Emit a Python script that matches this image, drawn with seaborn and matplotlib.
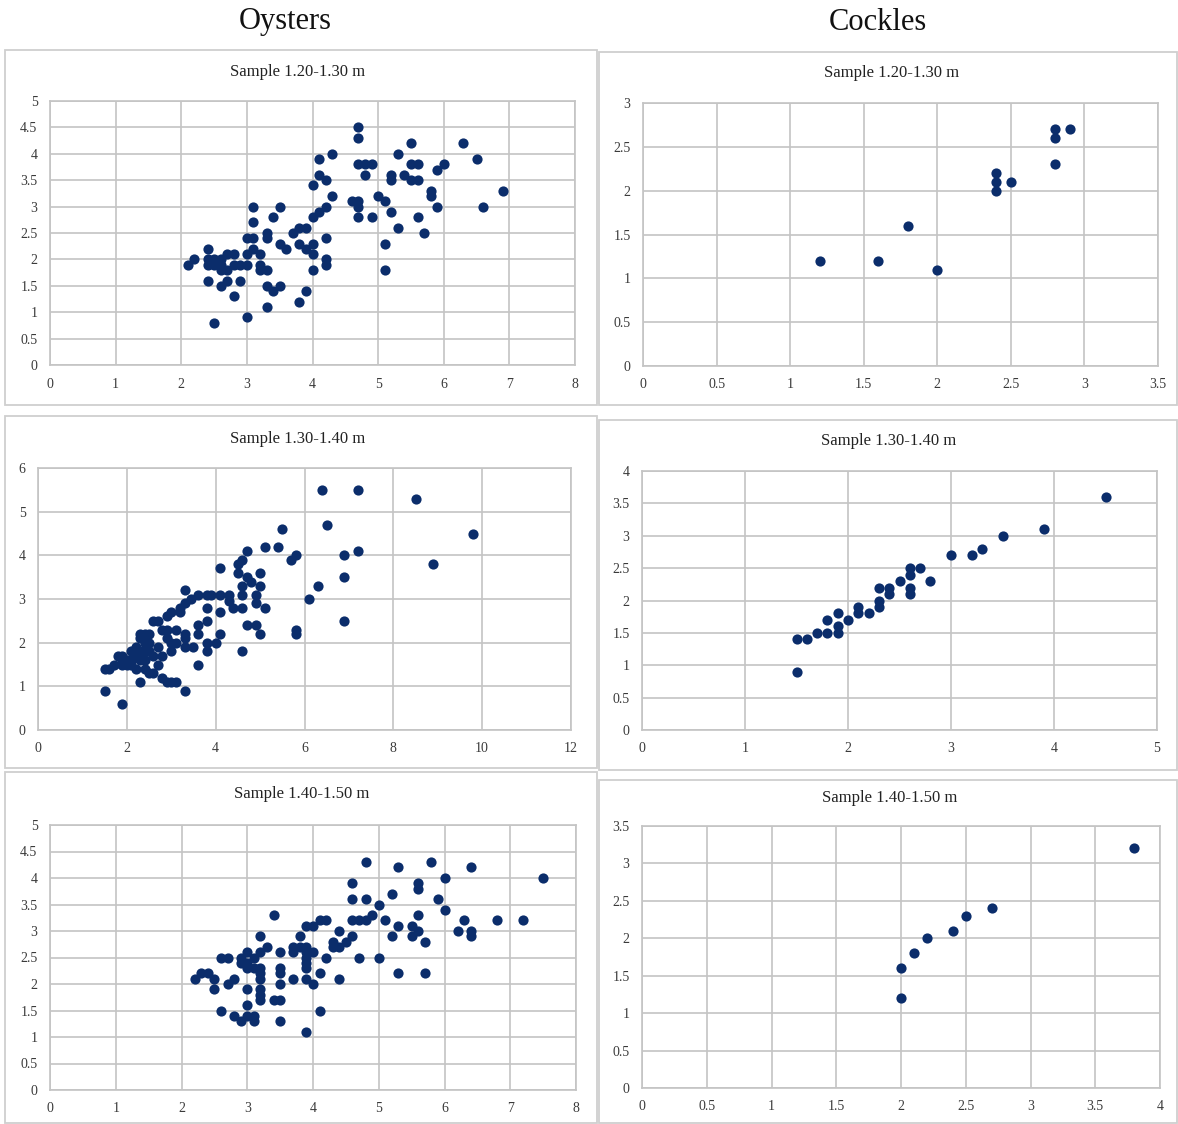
import numpy as np
import pandas as pd
import matplotlib
matplotlib.use("Agg")
import matplotlib.pyplot as plt
from matplotlib.patches import Rectangle
import seaborn as sns

# ---------------- data ----------------
column_titles = ["Oysters", "Cockles"]
panel_titles = ["Sample 1.20-1.30 m", "Sample 1.30-1.40 m", "Sample 1.40-1.50 m"]

oy1_x = [4.7, 4.7, 5.5, 5.3, 4.1, 4.3, 4.7, 4.8, 4.9, 4.8, 5.5, 5.6, 5.2, 5.2, 5.4, 5.5, 5.6,
         4.1, 4.2, 4.0, 4.3, 4.6, 4.7, 4.7, 5.0, 5.1, 5.2, 4.7, 4.9, 5.6, 5.3, 5.1, 5.1,
         4.2, 4.1, 4.0, 3.9, 3.8, 3.7, 3.1, 3.5, 3.4, 3.1, 3.0, 3.1, 3.3, 3.3, 3.5, 3.6,
         3.8, 3.9, 4.0, 4.0, 4.2, 4.2, 4.2, 4.0, 3.9, 3.8, 2.4, 2.1, 2.2, 2.4, 2.5, 2.6,
         2.4, 2.5, 2.6, 2.7, 2.6, 2.7, 2.8, 2.8, 2.9, 3.0, 3.0, 3.1, 3.2, 3.2, 3.2, 3.3,
         2.4, 2.7, 2.6, 2.9, 2.8, 3.3, 3.4, 3.5, 3.3, 2.5, 3.0, 5.9, 6.0, 6.3, 6.5, 6.9,
         6.6, 5.8, 5.8, 5.9, 5.7]
oy1_y = [4.5, 4.3, 4.2, 4.0, 3.9, 4.0, 3.8, 3.8, 3.8, 3.6, 3.8, 3.8, 3.6, 3.5, 3.6, 3.5, 3.5,
         3.6, 3.5, 3.4, 3.2, 3.1, 3.1, 3.0, 3.2, 3.1, 2.9, 2.8, 2.8, 2.8, 2.6, 2.3, 1.8,
         3.0, 2.9, 2.8, 2.6, 2.6, 2.5, 3.0, 3.0, 2.8, 2.7, 2.4, 2.4, 2.5, 2.4, 2.3, 2.2,
         2.3, 2.2, 2.3, 2.1, 2.4, 2.0, 1.9, 1.8, 1.4, 1.2, 2.2, 1.9, 2.0, 2.0, 2.0, 2.0,
         1.9, 1.9, 1.9, 1.8, 1.8, 2.1, 2.1, 1.9, 1.9, 1.9, 2.1, 2.2, 2.1, 1.9, 1.8, 1.8,
         1.6, 1.6, 1.5, 1.6, 1.3, 1.5, 1.4, 1.5, 1.1, 0.8, 0.9, 3.7, 3.8, 4.2, 3.9, 3.3,
         3.0, 3.3, 3.2, 3.0, 2.5]

oy2_x = [5.5, 5.1, 5.4, 4.7, 4.6, 4.5, 5.7, 5.8, 4.1, 4.5, 5.0, 4.7, 4.8, 5.0, 4.6, 4.6,
         4.9, 3.3, 3.6, 3.8, 3.9, 4.1, 4.3, 3.45, 3.3, 3.2, 3.2, 3.0, 2.9, 4.3, 4.4, 4.6,
         4.9, 5.1, 3.8, 4.1, 3.8, 3.6, 3.6, 4.7, 4.9, 5.0, 4.1, 3.8, 4.0, 3.8, 4.6, 3.6,
         5.8, 5.8, 6.1, 2.6, 2.7, 2.8, 2.3, 2.4, 2.5, 3.1, 3.3, 3.3, 2.9, 3.0, 3.1, 3.3,
         3.5, 3.0, 2.8, 2.2, 2.1, 1.9, 1.8, 1.7, 1.5, 1.6, 2.2, 2.3, 2.4, 2.5, 2.1, 2.2,
         2.4, 2.5, 2.6, 1.9, 2.7, 2.4, 2.3, 2.5, 2.0, 2.1, 1.9, 2.4, 2.7, 2.0, 2.3, 2.6,
         2.9, 2.3, 2.8, 2.9, 3.0, 3.1, 3.3, 1.5, 1.9, 6.4, 7.2, 8.5, 6.5, 9.8, 6.9, 7.2,
         8.9, 6.9, 6.3, 6.9]
oy2_y = [4.6, 4.2, 4.2, 4.1, 3.9, 3.8, 3.9, 4.0, 3.7, 3.6, 3.6, 3.5, 3.4, 3.3, 3.3, 3.1,
         3.1, 3.2, 3.1, 3.1, 3.1, 3.1, 3.1, 3.0, 2.9, 2.8, 2.7, 2.7, 2.6, 2.95, 2.8, 2.8,
         2.9, 2.8, 2.8, 2.7, 2.5, 2.4, 2.2, 2.4, 2.4, 2.2, 2.2, 2.0, 2.0, 1.8, 1.8, 1.5,
         2.3, 2.2, 3.0, 2.5, 2.5, 2.3, 2.2, 2.2, 2.2, 2.3, 2.2, 2.1, 2.1, 2.0, 2.0, 1.9,
         1.9, 1.8, 1.7, 1.9, 1.8, 1.7, 1.7, 1.5, 1.4, 1.4, 1.7, 1.8, 1.8, 1.8, 1.5, 1.4,
         1.4, 1.3, 1.3, 1.5, 1.9, 2.0, 2.1, 2.0, 1.6, 1.6, 1.6, 1.6, 1.5, 1.5, 1.6, 1.7,
         2.3, 1.1, 1.2, 1.1, 1.1, 1.1, 0.9, 0.9, 0.6, 5.5, 5.5, 5.3, 4.7, 4.5, 4.0, 4.1,
         3.8, 3.5, 3.3, 2.5]

oy3_x = [4.8, 5.3, 4.6, 4.6, 4.8, 5.0, 5.2, 5.1, 3.4, 3.9, 4.0, 4.1, 4.2, 4.6, 4.7, 4.8,
         4.9, 5.3, 5.2, 4.4, 4.6, 4.5, 4.4, 4.3, 4.3, 3.2, 3.8, 3.3, 3.7, 3.8, 3.9, 3.7,
         3.9, 3.9, 4.0, 4.2, 4.7, 5.0, 5.3, 4.4, 3.5, 3.5, 3.5, 3.5, 3.7, 3.9, 3.9, 3.9,
         4.0, 4.1, 3.2, 3.0, 3.1, 3.2, 3.2, 2.6, 2.7, 2.9, 2.9, 3.0, 3.0, 3.1, 2.2, 2.3,
         2.4, 2.5, 2.5, 2.7, 2.8, 3.0, 3.2, 3.2, 3.2, 3.2, 3.4, 3.5, 3.0, 2.6, 2.8, 2.9,
         3.0, 3.1, 3.1, 3.5, 4.1, 3.9, 5.8, 6.4, 7.5, 6.0, 5.6, 5.6, 5.9, 6.0, 5.6, 6.3,
         6.8, 7.2, 5.5, 5.5, 5.6, 5.7, 6.2, 6.4, 6.4, 5.7]
oy3_y = [4.3, 4.2, 3.9, 3.6, 3.6, 3.5, 3.7, 3.2, 3.3, 3.1, 3.1, 3.2, 3.2, 3.2, 3.2, 3.2,
         3.3, 3.1, 2.9, 3.0, 2.9, 2.8, 2.7, 2.8, 2.7, 2.9, 2.9, 2.7, 2.7, 2.7, 2.7, 2.6,
         2.6, 2.5, 2.6, 2.5, 2.5, 2.5, 2.2, 2.1, 2.6, 2.3, 2.2, 2.0, 2.1, 2.4, 2.3, 2.1,
         2.0, 2.2, 2.6, 2.6, 2.5, 2.3, 2.2, 2.5, 2.5, 2.5, 2.4, 2.4, 2.3, 2.3, 2.1, 2.2,
         2.2, 2.1, 1.9, 2.0, 2.1, 1.9, 2.1, 1.9, 1.8, 1.7, 1.7, 1.7, 1.6, 1.5, 1.4, 1.3,
         1.4, 1.3, 1.4, 1.3, 1.5, 1.1, 4.3, 4.2, 4.0, 4.0, 3.9, 3.8, 3.6, 3.4, 3.3, 3.2,
         3.2, 3.2, 3.1, 2.9, 3.0, 2.8, 3.0, 3.0, 2.9, 2.2]

co1_x = [1.2, 1.6, 1.8, 2.0, 2.4, 2.4, 2.4, 2.5, 2.8, 2.8, 2.8, 2.9]
co1_y = [1.2, 1.2, 1.6, 1.1, 2.2, 2.1, 2.0, 2.1, 2.7, 2.6, 2.3, 2.7]

co2_x = [4.5, 3.9, 3.5, 3.3, 3.2, 3.0, 2.7, 2.6, 2.6, 2.5, 2.8, 2.6, 2.6, 2.4, 2.4, 2.3,
         2.3, 2.3, 2.2, 2.1, 2.1, 2.0, 1.9, 1.9, 1.9, 1.8, 1.8, 1.7, 1.6, 1.5, 1.5]
co2_y = [3.6, 3.1, 3.0, 2.8, 2.7, 2.7, 2.5, 2.5, 2.4, 2.3, 2.3, 2.2, 2.1, 2.2, 2.1, 2.2,
         2.0, 1.9, 1.8, 1.9, 1.8, 1.7, 1.8, 1.6, 1.5, 1.7, 1.5, 1.5, 1.4, 1.4, 0.9]

co3_x = [2.0, 2.0, 2.1, 2.2, 2.4, 2.5, 2.7, 3.8]
co3_y = [1.6, 1.2, 1.8, 2.0, 2.1, 2.3, 2.4, 3.2]

# axis ranges / steps: (xmax, xstep, ymax, ystep)
oy1_axis = (8, 1, 5, 0.5)
oy2_axis = (12, 2, 6, 1)
oy3_axis = (8, 1, 5, 0.5)
co1_axis = (3.5, 0.5, 3, 0.5)
co2_axis = (5, 1, 4, 0.5)
co3_axis = (4, 0.5, 3.5, 0.5)

# ---------------- style ----------------
sns.set_style("white")
plt.rcParams['font.family'] = ['Liberation Serif', 'DejaVu Serif']

W, H = 1178, 1124
fig = plt.figure(figsize=(W / 100, H / 100), dpi=100)
fig.patch.set_facecolor("white")

DOT = "#0B2D6B"
GRID = "#C4C4C4"
BOX = "#CFCFCF"


def fx(px):
    return px / W


def fy(py):
    return 1 - py / H


def add_box(l, t, r, b):
    fig.patches.append(Rectangle((fx(l), fy(b)), fx(r) - fx(l), fy(t) - fy(b),
                                 transform=fig.transFigure, fill=False,
                                 edgecolor=BOX, linewidth=1.3, zorder=0))


def panel(xs, ys, axis, rect, title, title_pos):
    l, t, r, b = rect
    ax = fig.add_axes([fx(l), fy(b), fx(r) - fx(l), fy(t) - fy(b)])
    df = pd.DataFrame({"x": xs, "y": ys})
    sns.scatterplot(data=df, x="x", y="y", ax=ax, color=DOT, s=54,
                    edgecolor=DOT, linewidth=0, zorder=3)
    xmax, xstep, ymax, ystep = axis
    xt = np.arange(0, xmax + xstep / 2, xstep)
    yt = np.arange(0, ymax + ystep / 2, ystep)
    ax.set_xlim(0, xmax)
    ax.set_ylim(0, ymax)
    ax.set_xticks(xt)
    ax.set_yticks(yt)
    ax.set_xticklabels([f"{v:g}" for v in xt])
    ax.set_yticklabels([f"{v:g}" for v in yt])
    ax.tick_params(length=0, labelsize=10, colors="#3A3A3A")
    ax.tick_params(axis="x", pad=9)
    ax.tick_params(axis="y", pad=9)
    ax.grid(True, color=GRID, linewidth=1.2)
    ax.set_axisbelow(True)
    for sp in ax.spines.values():
        sp.set_color(GRID)
        sp.set_linewidth(1.2)
    ax.set_xlabel("")
    ax.set_ylabel("")
    fig.text(fx(title_pos[0]), fy(title_pos[1]), title, ha="center", va="center",
             fontsize=12, color="#222222")
    return ax


# panel frames
add_box(5, 50, 597, 405)
add_box(599, 52, 1177, 405)
add_box(5, 416, 597, 768)
add_box(599, 420, 1177, 770)
add_box(5, 772, 597, 1123)
add_box(599, 780, 1177, 1123)

panel(oy1_x, oy1_y, oy1_axis, (50, 101, 575, 365), panel_titles[0], (298, 72))
panel(co1_x, co1_y, co1_axis, (643, 103, 1158, 366), panel_titles[0], (892, 73))
panel(oy2_x, oy2_y, oy2_axis, (38, 468, 571, 730), panel_titles[1], (298, 439))
panel(co2_x, co2_y, co2_axis, (642, 471, 1157, 730), panel_titles[1], (889, 441))
panel(oy3_x, oy3_y, oy3_axis, (50, 825, 576, 1090), panel_titles[2], (302, 794))
panel(co3_x, co3_y, co3_axis, (642, 826, 1160, 1088), panel_titles[2], (890, 798))

fig.text(fx(285), fy(22), column_titles[0], ha="center", va="center", fontsize=22, color="#111111")
fig.text(fx(878), fy(22), column_titles[1], ha="center", va="center", fontsize=22, color="#111111")

fig.savefig("out.png", dpi=100, facecolor="white")
